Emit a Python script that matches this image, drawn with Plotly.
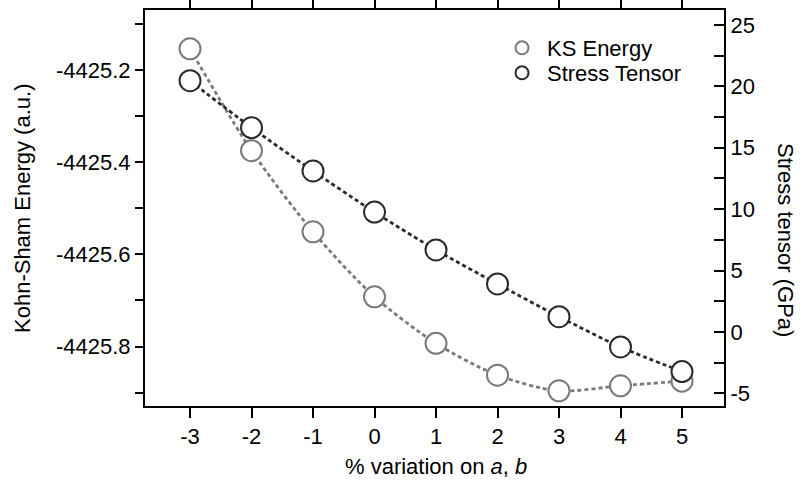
import plotly.graph_objects as go

variation = [-3, -2, -1, 0, 1, 2, 3, 4, 5]
variation_labels = ["-3", "-2", "-1", "0", "1", "2", "3", "4", "5"]
ks_energy = [-4425.154, -4425.375, -4425.551, -4425.692, -4425.793, -4425.862, -4425.896, -4425.885, -4425.875]
stress = [20.46, 16.64, 13.11, 9.76, 6.68, 3.91, 1.24, -1.22, -3.23]
ks_ticks = [-4425.2, -4425.4, -4425.6, -4425.8]
ks_ticklabels = ["-4425.2", "-4425.4", "-4425.6", "-4425.8"]
ks_minor = [-4425.1, -4425.3, -4425.5, -4425.7, -4425.9]
st_ticks = [-5, 0, 5, 10, 15, 20, 25]
st_ticklabels = ["-5", "0", "5", "10", "15", "20", "25"]
st_minor = [-2.5, 2.5, 7.5, 12.5, 17.5, 22.5]

FONT = "Liberation Sans, Arial, sans-serif"
FS = 22
KS_COLOR = "#7a7a7a"
ST_COLOR = "#2b2b2b"

fig = go.Figure()

fig.add_trace(go.Scatter(
    x=variation, y=ks_energy, mode="lines+markers", name="KS Energy",
    line=dict(color=KS_COLOR, width=2.8, dash="4px,3px", shape="spline", smoothing=0.8),
    marker=dict(symbol="circle", size=21, color="white", line=dict(color=KS_COLOR, width=2)),
    showlegend=False, yaxis="y"))

fig.add_trace(go.Scatter(
    x=variation, y=stress, mode="lines+markers", name="Stress Tensor",
    line=dict(color=ST_COLOR, width=2.8, dash="4px,3px", shape="spline", smoothing=0.8),
    marker=dict(symbol="circle", size=21, color="white", line=dict(color=ST_COLOR, width=2)),
    showlegend=False, yaxis="y2"))

# legend-only entries (markers only), each in its own legend box for tight spacing
fig.add_trace(go.Scatter(x=[None], y=[None], mode="markers", name="KS Energy", legend="legend",
                         marker=dict(symbol="circle-open", size=13, color=KS_COLOR, line=dict(width=2))))
fig.add_trace(go.Scatter(x=[None], y=[None], mode="markers", name="Stress Tensor", legend="legend2",
                         marker=dict(symbol="circle-open", size=13, color=ST_COLOR, line=dict(width=2))))

axis_common = dict(showline=True, linecolor="black", linewidth=2, showgrid=False, zeroline=False,
                   automargin=False, tickcolor="black", tickwidth=2,
                   tickfont=dict(family=FONT, size=FS, color="black"))

legend_common = dict(xanchor="left", yanchor="middle", bgcolor="rgba(0,0,0,0)", itemwidth=40,
                     font=dict(family=FONT, size=FS, color="black"))

fig.update_layout(
    width=803, height=481,
    margin=dict(l=145, r=79, t=10, b=75),
    paper_bgcolor="white", plot_bgcolor="white",
    font=dict(family=FONT, size=FS, color="black"),
    xaxis=dict(range=[-3.732, 5.683], tickmode="array", tickvals=variation, ticktext=variation_labels,
               ticks="outside", ticklen=10, mirror="ticks", **axis_common),
    yaxis=dict(range=[-4425.9289, -4425.0698], tickmode="array",
               tickvals=ks_ticks, ticktext=ks_ticklabels,
               ticks="outside", ticklen=8,
               minor=dict(tickmode="array", tickvals=ks_minor,
                          ticks="outside", ticklen=8, tickwidth=2, tickcolor="black"),
               **axis_common),
    yaxis2=dict(range=[-6.03, 26.22], overlaying="y", side="right", anchor="x",
                tickmode="array", tickvals=st_ticks, ticktext=st_ticklabels,
                ticks="inside", ticklen=10,
                minor=dict(tickmode="array", tickvals=st_minor,
                           ticks="inside", ticklen=10, tickwidth=2, tickcolor="black"),
                **axis_common),
    legend=dict(x=(497 - 145) / 579, y=(406 - 48) / 396, **legend_common),
    legend2=dict(x=(497 - 145) / 579, y=(406 - 73) / 396, **legend_common),
    annotations=[
        dict(text="Kohn-Sham Energy (a.u.)", textangle=-90, xref="paper", yref="paper",
             x=(22 - 145) / 579, y=(406 - 209) / 396, xanchor="center", yanchor="middle",
             showarrow=False, font=dict(family=FONT, size=FS, color="black")),
        dict(text="Stress tensor (GPa)", textangle=90, xref="paper", yref="paper",
             x=(786 - 145) / 579, y=(406 - 240) / 396, xanchor="center", yanchor="middle",
             showarrow=False, font=dict(family=FONT, size=FS, color="black")),
        dict(text="% variation on <i>a</i>, <i>b</i>", xref="paper", yref="paper",
             x=(436 - 145) / 579, y=(406 - 466) / 396, xanchor="center", yanchor="middle",
             showarrow=False, font=dict(family=FONT, size=FS, color="black")),
    ],
)

fig.write_html("out.html", config={"displayModeBar": False},
               post_script="document.body.style.margin='0';document.body.style.padding='0';")
